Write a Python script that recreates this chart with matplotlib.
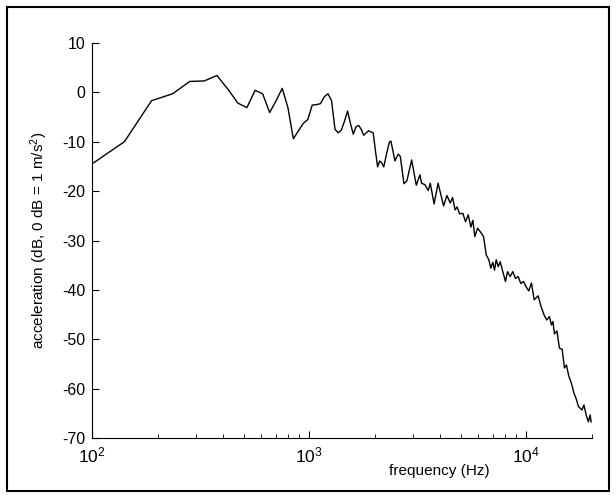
import matplotlib
matplotlib.use("Agg")
import matplotlib.pyplot as plt
from matplotlib.patches import Rectangle
from matplotlib.ticker import LogLocator, FixedLocator, NullFormatter

plt.rcParams['font.family'] = ['Liberation Sans', 'DejaVu Sans']
plt.rcParams['mathtext.fontset'] = 'custom'
plt.rcParams['mathtext.rm'] = 'Liberation Sans'
plt.rcParams['mathtext.it'] = 'Liberation Sans:italic'
plt.rcParams['axes.unicode_minus'] = False

freq_hz = [
    93.75, 140.6, 187.5, 234.4, 281.3, 328.1, 375.0, 421.9, 468.8, 515.6,
    562.5, 609.4, 656.3, 703.1, 750.0, 796.9, 843.8, 890.6, 937.5, 984.4,
    1031, 1078, 1125, 1172, 1219, 1266, 1313, 1359, 1406, 1453,
    1500, 1547, 1594, 1641, 1688, 1734, 1781, 1828, 1875, 1922,
    1969, 2016, 2063, 2109, 2156, 2203, 2250, 2297, 2344,
    2377, 2480, 2566, 2626, 2728, 2816, 2960, 3111, 3232, 3290,
    3407, 3532, 3608, 3757, 3919, 4155, 4303, 4461, 4571, 4694,
    4794, 4922, 5097, 5245, 5398, 5548, 5667, 5789, 5957, 6131,
    6348, 6531, 6714, 6858, 7005, 7132, 7261, 7417, 7576, 7788,
    8013, 8185, 8424, 8659, 8910, 9170, 9424, 9698, 9980, 10257,
    10556, 10863, 11331, 11673, 12076, 12414, 12773, 13047, 13256, 13469,
    13830, 14202, 14616, 14975, 15299, 15674, 16131, 16564, 16920, 17374,
    18030, 18416, 18911, 19316, 19667, 19876,
]
accel_db = [
    -15.3, -10.0, -1.7, -0.3, 2.2, 2.3, 3.4, 0.6, -2.2, -3.1,
    0.4, -0.3, -4.1, -1.7, 0.8, -3.1, -9.4, -7.8, -6.3, -5.5,
    -2.6, -2.5, -2.3, -0.9, -0.3, -1.7, -7.5, -8.2, -7.6, -5.8,
    -3.8, -6.3, -8.5, -7.0, -6.7, -7.5, -8.7, -8.2, -7.8, -8.0,
    -8.2, -11.8, -15.1, -13.9, -14.3, -15.1, -13.2, -11.4, -10.0,
    -9.9, -13.9, -12.5, -13.0, -18.5, -17.9, -13.7, -18.8, -16.7, -18.4,
    -18.7, -19.9, -18.4, -22.6, -18.4, -23.0, -20.9, -22.4, -21.3, -23.8,
    -23.2, -24.6, -24.5, -26.2, -24.8, -27.3, -25.9, -29.2, -27.5, -28.2,
    -29.2, -32.9, -33.9, -35.6, -34.4, -36.0, -33.9, -35.3, -34.3, -36.3,
    -38.3, -36.3, -37.3, -36.3, -37.7, -37.3, -38.7, -38.3, -39.4, -40.2,
    -38.6, -42.0, -41.2, -43.3, -45.1, -46.1, -45.4, -47.1, -46.4, -48.9,
    -48.3, -51.8, -52.0, -55.8, -55.2, -57.4, -58.9, -60.9, -61.9, -63.6,
    -64.3, -63.3, -65.5, -66.7, -65.3, -66.7,
]

y_ticks = [10, 0, -10, -20, -30, -40, -50, -60, -70]

W, H = 616, 498
fig = plt.figure(figsize=(W / 100, H / 100), dpi=100)
ax = fig.add_axes([92.3 / W, 1 - 438.1 / H, (591.7 - 92.3) / W, (438.1 - 42.9) / H])

ax.plot(freq_hz, accel_db, color='black', linewidth=1.0)
ax.set_xscale('log')
ax.set_xlim(100, 20000)
ax.set_ylim(-70, 10)
ax.yaxis.set_major_locator(FixedLocator(y_ticks))
ax.xaxis.set_major_locator(LogLocator(base=10, numticks=10))
ax.xaxis.set_minor_locator(LogLocator(base=10, subs=range(2, 10), numticks=20))
ax.xaxis.set_minor_formatter(NullFormatter())

for s in ['top', 'right']:
    ax.spines[s].set_visible(False)
for s in ['left', 'bottom']:
    ax.spines[s].set_linewidth(0.8)

ax.tick_params(which='major', direction='in', length=5, width=0.8)
ax.tick_params(axis='y', labelsize=11.5, pad=5)
ax.tick_params(axis='x', labelsize=12.5, pad=5)
ax.tick_params(which='minor', direction='in', length=3, width=0.6)

ax.set_ylabel('acceleration (dB, 0 dB = 1 m/s$^2$)', fontsize=11)
ax.set_xlabel('frequency (Hz)', fontsize=11)
ax.xaxis.set_label_coords(0.695, -0.065)
ax.yaxis.set_label_coords(-0.085, 0.5)

fig.patches.append(Rectangle((7 / W, 7 / H), (609 - 7) / W, (491 - 7) / H,
                             transform=fig.transFigure, fill=False,
                             edgecolor='black', linewidth=1.5))

fig.savefig('out.png', dpi=100)
